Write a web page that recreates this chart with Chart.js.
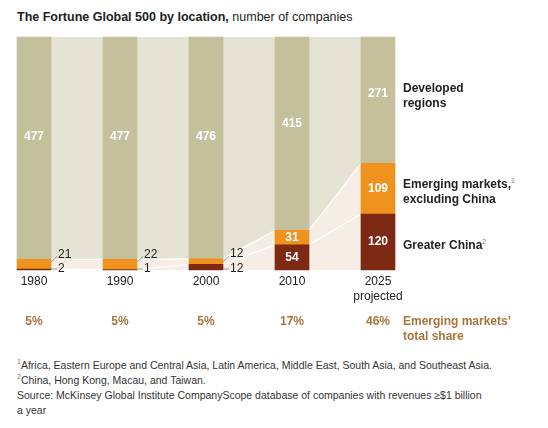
<!DOCTYPE html>
<html lang="en">
<head>
<meta charset="UTF-8">
<title>Fortune Global 500 by location</title>
<script src="https://cdn.jsdelivr.net/npm/chart.js@4"></script>
<style>
  body{margin:0;width:548px;height:428px;position:relative;font-family:Arial,"Liberation Sans",sans-serif;color:#222;background:#fff;overflow:hidden}
  .t{position:absolute;white-space:nowrap}
  #wrap{position:absolute;left:0;top:0;width:548px;height:330px}
  .lab{font-size:12px;font-weight:bold;line-height:15px}
  .share{font-size:12px;font-weight:bold;color:#a8743a;line-height:15px}
  .fn{font-size:10.5px;line-height:15px;color:#333}
  sup{font-size:7px;font-weight:normal;color:#777}
</style>
</head>
<body>
<div class="t" style="left:17px;top:10px;font-size:12.5px"><b>The Fortune Global 500 by location,</b> number of companies</div>
<div id="wrap"><canvas id="myChart"></canvas></div>
<div class="t lab" style="left:403px;top:81px">Developed<br>regions</div>
<div class="t lab" style="left:403px;top:173px">Emerging markets,<sup>1</sup><br>excluding China</div>
<div class="t lab" style="left:403px;top:234px">Greater China<sup>2</sup></div>
<div class="t share" style="left:403px;top:314px">Emerging markets’<br>total share</div>
<div class="t fn" style="left:17px;top:354px"><sup>1</sup>Africa, Eastern Europe and Central Asia, Latin America, Middle East, South Asia, and Southeast Asia.</div>
<div class="t fn" style="left:17px;top:369px"><sup>2</sup>China, Hong Kong, Macau, and Taiwan.</div>
<div class="t fn" style="left:17px;top:388px">Source: McKinsey Global Institute CompanyScope database of companies with revenues ≥$1 billion<br>a year</div>
<script>
const years = ['1980', '1990', '2000', '2010', '2025'];
const yearLabels = [['1980'], ['1990'], ['2000'], ['2010'], ['2025', 'projected']];
const china = [2, 1, 12, 54, 120];
const emerging = [21, 22, 12, 31, 109];
const developed = [477, 477, 476, 415, 271];
const share = ['5%', '5%', '5%', '17%', '46%'];

const BAR = 34;

const bands = {
  id: 'bands',
  beforeDatasetsDraw(chart) {
    const c = chart.ctx, y = chart.scales.y;
    const m = chart.getDatasetMeta(0).data;
    const L = m[0].x - BAR / 2, R = m[m.length - 1].x + BAR / 2;
    c.save();
    c.fillStyle = '#e4e2d3';
    c.fillRect(L, y.getPixelForValue(500), R - L, y.getPixelForValue(0) - y.getPixelForValue(500));
    for (let i = 0; i < m.length - 1; i++) {
      const x0 = m[i].x + BAR / 2, x1 = m[i + 1].x - BAR / 2;
      const e0 = china[i] + emerging[i], e1 = china[i + 1] + emerging[i + 1];
      c.fillStyle = '#f6eee5';
      c.beginPath();
      c.moveTo(x0, y.getPixelForValue(0));
      c.lineTo(x0, y.getPixelForValue(e0));
      c.lineTo(x1, y.getPixelForValue(e1));
      c.lineTo(x1, y.getPixelForValue(0));
      c.fill();
      c.strokeStyle = '#fff';
      c.lineWidth = 1.2;
      [e0, china[i]].forEach((v, k) => {
        c.beginPath();
        c.moveTo(x0, y.getPixelForValue(v));
        c.lineTo(x1, y.getPixelForValue(k ? china[i + 1] : e1));
        c.stroke();
      });
    }
    c.restore();
  },
  afterDatasetsDraw(chart) {
    const c = chart.ctx, y = chart.scales.y;
    const m = chart.getDatasetMeta(0).data;
    c.save();
    c.textAlign = 'center';
    c.textBaseline = 'middle';
    c.font = 'bold 12px Arial, "Liberation Sans", sans-serif';
    m.forEach((el, i) => {
      const x = el.x;
      const e = china[i] + emerging[i];
      const top = y.getPixelForValue(500), dt = y.getPixelForValue(e);
      c.fillStyle = '#fff';
      c.fillText(developed[i], x, top + (dt - top) * 0.45);
      if (china[i] > 30) {
        c.fillText(china[i], x, (y.getPixelForValue(0) + y.getPixelForValue(china[i])) / 2);
        c.fillText(emerging[i], x, (y.getPixelForValue(china[i]) + dt) / 2);
      } else {
        c.font = '12px Arial, "Liberation Sans", sans-serif';
        c.fillStyle = '#222';
        c.textAlign = 'left';
        c.strokeStyle = '#888';
        c.lineWidth = 0.8;
        const xr = x + BAR / 2;
        c.beginPath(); c.moveTo(xr, dt + 3); c.lineTo(xr + 6, dt - 3); c.stroke();
        c.fillText(emerging[i], xr + 7, dt - 5);
        const b = y.getPixelForValue(0) - 1;
        c.beginPath(); c.moveTo(xr, b); c.lineTo(xr + 6, b); c.stroke();
        c.fillText(china[i], xr + 7, b);
        c.font = 'bold 12px Arial, "Liberation Sans", sans-serif';
        c.textAlign = 'center';
      }
      c.font = '12px Arial, "Liberation Sans", sans-serif';
      c.fillStyle = '#222';
      yearLabels[i].forEach((s, k) => c.fillText(s, x, 282 + k * 15));
      c.font = 'bold 12px Arial, "Liberation Sans", sans-serif';
      c.fillStyle = '#a8743a';
      c.fillText(share[i], x, 322);
    });
    c.restore();
  }
};

const ds = (label, data, color) => ({
  label, data, backgroundColor: color, borderWidth: 0, clip: false,
  barThickness: BAR
});

new Chart(document.getElementById('myChart'), {
  type: 'bar',
  data: {
    labels: years,
    datasets: [
      ds('Greater China', china, '#7d2914'),
      ds('Emerging markets, excluding China', emerging, '#f0921e'),
      ds('Developed regions', developed, '#c4c09c')
    ]
  },
  options: {
    responsive: true,
    maintainAspectRatio: false,
    animation: false,
    layout: { padding: { left: 34, right: 170, top: 37, bottom: 60 } },
    plugins: { legend: { display: false }, tooltip: { enabled: false } },
    scales: {
      x: { stacked: true, offset: false, display: false },
      y: { stacked: true, min: 0, max: 500, display: false }
    }
  },
  plugins: [bands]
});
</script>
</body>
</html>
